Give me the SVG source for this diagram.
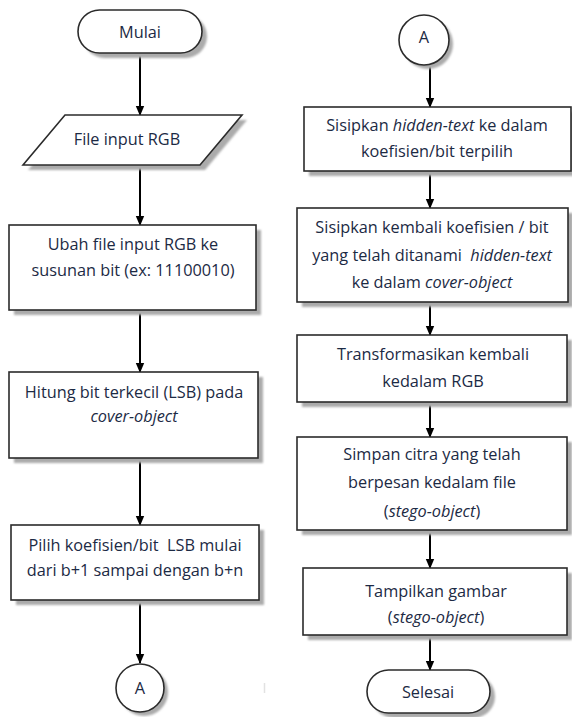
<svg xmlns="http://www.w3.org/2000/svg" width="572" height="717" viewBox="0 0 572 717">
<style>
.shape{fill:#ffffff;stroke:#2b2b2b;stroke-width:1.6}
.shadow{fill:#ababab;filter:url(#blur)}
.t{font-family:"Open Sans","Liberation Sans",sans-serif;font-size:16.3px;fill:#1c2a44;text-anchor:middle;white-space:pre}
.i{font-style:italic}
.conn{stroke:#000;stroke-width:2;fill:none;marker-end:url(#arr)}
</style>
<defs>
<filter id="blur" x="-10%" y="-10%" width="120%" height="130%"><feGaussianBlur stdDeviation="1"/></filter>
<marker id="arr" markerWidth="10" markerHeight="10" refX="9" refY="5" orient="auto" markerUnits="userSpaceOnUse">
<path d="M0,0.8 L10,5 L0,9.2 Z" fill="#000"/>
</marker>
</defs>
<rect width="572" height="717" fill="#ffffff"/>

<g id="connectors">
<line class="conn" x1="140" y1="53" x2="140" y2="115"/>
<line class="conn" x1="140" y1="165" x2="140" y2="225"/>
<line class="conn" x1="140" y1="310" x2="140" y2="372"/>
<line class="conn" x1="140" y1="458" x2="140" y2="525"/>
<line class="conn" x1="140" y1="600" x2="140" y2="663"/>
<line class="conn" x1="430" y1="65" x2="430" y2="107"/>
<line class="conn" x1="430" y1="171" x2="430" y2="208"/>
<line class="conn" x1="430" y1="302" x2="430" y2="335"/>
<line class="conn" x1="430" y1="402" x2="430" y2="437"/>
<line class="conn" x1="430" y1="530" x2="430" y2="568"/>
<line class="conn" x1="430" y1="635" x2="430" y2="670"/>
</g>

<g id="mulai">
<rect class="shadow" x="83" y="15" width="124" height="43" rx="21.5"/>
<rect class="shape" x="78" y="10" width="124" height="43" rx="21.5"/>
<text class="t" x="140" y="38">Mulai</text>
</g>

<g id="file-input">
<polygon class="shadow" points="70,120 247,120 205,170 28,170"/>
<polygon class="shape" points="65,115 242,115 200,165 23,165"/>
<text class="t" x="127" y="145">File input RGB</text>
</g>

<g id="ubah">
<rect class="shadow" x="14" y="230" width="247" height="85"/>
<rect class="shape" x="9" y="225" width="247" height="85"/>
<text class="t" x="133" y="250">Ubah file input RGB ke</text>
<text class="t" x="133" y="276">susunan bit (ex: 11100010)</text>
</g>

<g id="hitung">
<rect class="shadow" x="14" y="377" width="249" height="86"/>
<rect class="shape" x="9" y="372" width="249" height="86"/>
<text class="t" x="134" y="398">Hitung bit terkecil (LSB) pada</text>
<text class="t i" x="134" y="422">cover-object</text>
</g>

<g id="pilih">
<rect class="shadow" x="16" y="530" width="248" height="75"/>
<rect class="shape" x="11" y="525" width="248" height="75"/>
<text class="t" x="135" y="551">Pilih koefisien/bit&#160; LSB mulai</text>
<text class="t" x="135" y="576">dari b+1 sampai dengan b+n</text>
</g>

<g id="conn-a-left">
<circle class="shadow" cx="144" cy="692" r="24"/>
<circle class="shape" cx="140" cy="688" r="24"/>
<text class="t" x="140" y="694">A</text>
</g>

<line x1="264.5" y1="683" x2="264.5" y2="693" stroke="#e2e2e2" stroke-width="1.5"/>

<g id="conn-a-right">
<circle class="shadow" cx="428" cy="44" r="25"/>
<circle class="shape" cx="424" cy="40" r="25"/>
<text class="t" x="424" y="43">A</text>
</g>

<g id="sisipkan">
<rect class="shadow" x="309" y="112" width="267" height="64"/>
<rect class="shape" x="304" y="107" width="267" height="64"/>
<text class="t" x="437" y="131">Sisipkan <tspan class="i">hidden-text</tspan> ke dalam</text>
<text class="t" x="437" y="157">koefisien/bit terpilih</text>
</g>

<g id="sisipkan-kembali">
<rect class="shadow" x="302" y="213" width="271" height="94"/>
<rect class="shape" x="297" y="208" width="271" height="94"/>
<text class="t" x="432" y="233">Sisipkan kembali koefisien / bit</text>
<text class="t" x="432" y="261">yang telah ditanami&#160; <tspan class="i">hidden-text</tspan></text>
<text class="t" x="432" y="288">ke dalam <tspan class="i">cover-object</tspan></text>
</g>

<g id="transformasi">
<rect class="shadow" x="302" y="340" width="270" height="67"/>
<rect class="shape" x="297" y="335" width="270" height="67"/>
<text class="t" x="433" y="360">Transformasikan kembali</text>
<text class="t" x="433" y="387">kedalam RGB</text>
</g>

<g id="simpan">
<rect class="shadow" x="302" y="442" width="270" height="93"/>
<rect class="shape" x="297" y="437" width="270" height="93"/>
<text class="t" x="432" y="460">Simpan citra yang telah</text>
<text class="t" x="432" y="488">berpesan kedalam file</text>
<text class="t" x="432" y="517">(<tspan class="i">stego-object</tspan>)</text>
</g>

<g id="tampilkan">
<rect class="shadow" x="308" y="573" width="264" height="67"/>
<rect class="shape" x="303" y="568" width="264" height="67"/>
<text class="t" x="436" y="597">Tampilkan gambar</text>
<text class="t" x="436" y="623">(<tspan class="i">stego-object</tspan>)</text>
</g>

<g id="selesai">
<rect class="shadow" x="372" y="675" width="123" height="43" rx="21.5"/>
<rect class="shape" x="367" y="670" width="123" height="43" rx="21.5"/>
<text class="t" x="428" y="698">Selesai</text>
</g>
</svg>
